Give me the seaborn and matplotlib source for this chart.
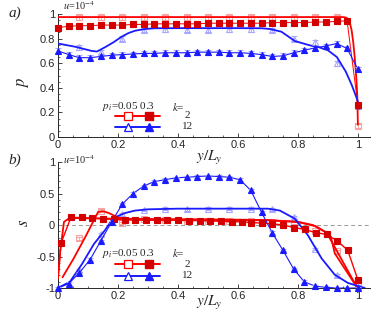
import matplotlib
matplotlib.use("Agg")
import matplotlib.pyplot as plt
import seaborn as sns

# ---- panel a): p vs y/Ly ----
p_red_theory_x = [0.0, 0.2, 0.4, 0.6, 0.8, 0.95, 0.962, 0.972, 0.979, 0.985, 0.99, 0.995, 0.998, 1.0]
p_red_theory = [0.975, 0.975, 0.975, 0.975, 0.975, 0.975, 0.97, 0.94, 0.87, 0.76, 0.63, 0.47, 0.33, 0.1]

x_hollow = [0.071, 0.143, 0.214, 0.286, 0.357, 0.429, 0.5, 0.571, 0.643, 0.714, 0.786, 0.857, 0.929, 1.0]
p_red_hollow = [0.975, 0.975, 0.975, 0.975, 0.975, 0.975, 0.975, 0.975, 0.975, 0.975, 0.975, 0.975, 0.975, 0.09]

x_filled = [0.0, 0.036, 0.071, 0.107, 0.143, 0.179, 0.214, 0.25, 0.286, 0.321, 0.357, 0.393, 0.429, 0.464,
            0.5, 0.536, 0.571, 0.607, 0.643, 0.679, 0.714, 0.75, 0.786, 0.821, 0.857, 0.893, 0.929, 0.964, 1.0]
p_red_filled = [0.89, 0.9, 0.905, 0.905, 0.91, 0.91, 0.91, 0.915, 0.915, 0.92, 0.92, 0.92, 0.92, 0.92,
                0.925, 0.925, 0.925, 0.925, 0.925, 0.925, 0.93, 0.93, 0.93, 0.93, 0.935, 0.935, 0.94, 0.945, 0.26]

p_blue_theory_x = [0.0, 0.057, 0.112, 0.13, 0.157, 0.185, 0.212, 0.235, 0.257, 0.29, 0.323, 0.4, 0.5, 0.6,
                   0.68, 0.707, 0.745, 0.79, 0.84, 0.87, 0.9, 0.93, 0.96, 0.98, 1.0, 1.005]
p_blue_theory = [0.76, 0.734, 0.70, 0.695, 0.73, 0.77, 0.815, 0.845, 0.864, 0.878, 0.884, 0.885, 0.885, 0.885,
                 0.884, 0.878, 0.856, 0.78, 0.745, 0.73, 0.705, 0.65, 0.53, 0.42, 0.29, 0.23]
p_blue_hollow = [0.73, 0.69, 0.8, 0.87, 0.875, 0.87, 0.87, 0.875, 0.875, 0.87, 0.8, 0.77, 0.6, 0.25]
p_blue_filled = [0.70, 0.67, 0.645, 0.645, 0.655, 0.665, 0.67, 0.675, 0.68, 0.68, 0.685, 0.685, 0.685, 0.69,
                 0.69, 0.69, 0.685, 0.685, 0.68, 0.67, 0.655, 0.66, 0.685, 0.705, 0.725, 0.74, 0.76, 0.72, 0.55]

# ---- panel b): s vs y/Ly ----
s_red_filled_x = [0.0, 0.01, 0.043, 0.079, 0.114, 0.15, 0.186, 0.222, 0.257, 0.293, 0.329, 0.365, 0.4, 0.436,
                  0.472, 0.508, 0.543, 0.579, 0.615, 0.645, 0.68, 0.715, 0.751, 0.787, 0.823, 0.859, 0.896,
                  0.931, 0.966, 1.0]
s_red_filled = [-0.85, -0.29, 0.12, 0.12, 0.11, 0.10, 0.09, 0.08, 0.08, 0.085, 0.08, 0.08, 0.075, 0.07,
                0.07, 0.065, 0.06, 0.055, 0.05, 0.04, 0.03, 0.02, 0.0, -0.04, -0.07, -0.12, -0.15,
                -0.25, -0.40, -0.87]
s_red_theory_a_x = [0.015, 0.05, 0.09, 0.134, 0.15, 0.17, 0.2, 0.25, 0.3, 0.5, 0.7, 0.8, 0.85, 0.88, 0.9,
                    0.91, 0.923, 0.96, 0.996]
s_red_theory_a = [-0.83, -0.55, -0.2, 0.21, 0.22, 0.19, 0.12, 0.09, 0.08, 0.08, 0.075, 0.05, 0.0, -0.08,
                  -0.14, -0.19, -0.45, -0.72, -0.98]
s_red_theory_b_x = [0.0, 0.008, 0.02, 0.035, 0.06, 0.2, 0.5, 0.7, 0.8, 0.86, 0.896, 0.996]
s_red_theory_b = [-0.85, -0.4, 0.05, 0.1, 0.11, 0.1, 0.09, 0.08, 0.05, -0.02, -0.12, -0.98]
s_red_hollow = [-0.21, 0.23, 0.03, 0.1, 0.08, 0.07, 0.07, 0.07, 0.06, 0.05, 0.0, -0.1, -0.42, -0.93]

s_blue_theory_x = [0.0, 0.04, 0.08, 0.12, 0.157, 0.184, 0.223, 0.257, 0.3, 0.4, 0.6, 0.7, 0.74, 0.79, 0.833,
                   0.879, 0.923, 0.967, 1.023]
s_blue_theory = [-1.0, -0.9, -0.62, -0.3, -0.08, 0.11, 0.19, 0.23, 0.25, 0.26, 0.26, 0.26, 0.23, 0.1, -0.16,
                 -0.53, -0.79, -0.92, -1.0]
s_blue_hollow = [-0.72, -0.15, 0.17, 0.24, 0.26, 0.25, 0.26, 0.26, 0.26, 0.25, 0.12, -0.38, -0.8, -0.98]
s_blue_filled = [-1.0, -0.93, -0.76, -0.55, -0.25, 0.05, 0.33, 0.5, 0.62, 0.69, 0.72, 0.75, 0.76, 0.77,
                 0.78, 0.77, 0.76, 0.72, 0.55, 0.2, -0.12, -0.4, -0.7, -0.9, -0.97, -0.99, -1.0, -1.0, -1.0]

x_ticks = [0, 0.2, 0.4, 0.6, 0.8, 1.0]
x_ticklabels = ["0", "0.2", "0.4", "0.6", "0.8", "1"]
p_ticks = [0, 0.2, 0.4, 0.6, 0.8, 1.0]
p_ticklabels = ["0", "0.2", "0.4", "0.6", "0.8", "1"]
s_ticks = [-1, -0.5, 0, 0.5, 1]
s_ticklabels = ["-1", "-0.5", "0", "0.5", "1"]
k_labels = ["2", "12"]

RED = "#ff0000"
DRED = "#d40000"
PINK = "#f5a3a3"
BLUE = "#1a1aff"
LBLUE = "#a8a8ff"

sns.set_style("ticks", {"xtick.direction": "in", "ytick.direction": "in"})
plt.rcParams["font.family"] = ["Liberation Sans", "DejaVu Sans"]
plt.rcParams["mathtext.fontset"] = "stix"
SERIF = "Liberation Serif"

fig = plt.figure(figsize=(3.74, 3.18), dpi=100)
ax1 = fig.add_axes([0.155, 0.569, 0.834, 0.387])
ax2 = fig.add_axes([0.155, 0.0943, 0.834, 0.396])


def markers(ax, x, y, mk, face, edge, ebc, ms, z):
    ax.errorbar(x, y, yerr=0.02, fmt=mk, ms=ms, mfc=face, mec=edge, mew=0.8,
                ecolor=ebc, elinewidth=0.6, capsize=2.5, capthick=0.6, zorder=z, clip_on=False)


def line(ax, x, y, color, lw, z=3):
    sns.lineplot(x=x, y=y, ax=ax, color=color, lw=lw, sort=False, estimator=None, zorder=z)


# panel a
line(ax1, p_red_theory_x, p_red_theory, RED, 1.3)
markers(ax1, x_hollow, p_red_hollow, "s", "none", PINK, PINK, 5, 2)
line(ax1, x_filled, p_red_filled, RED, 0.7)
markers(ax1, x_filled, p_red_filled, "s", DRED, DRED, PINK, 4.2, 4)
line(ax1, p_blue_theory_x, p_blue_theory, BLUE, 1.3)
markers(ax1, x_hollow, p_blue_hollow, "^", "none", LBLUE, LBLUE, 5, 2)
line(ax1, x_filled, p_blue_filled, BLUE, 0.8)
markers(ax1, x_filled, p_blue_filled, "^", BLUE, BLUE, LBLUE, 3.8, 4)

# panel b
ax2.axhline(0, color="#999999", ls=(0, (4, 3)), lw=0.7, zorder=1)
line(ax2, s_red_theory_a_x, s_red_theory_a, RED, 1.3)
line(ax2, s_red_theory_b_x, s_red_theory_b, RED, 1.3)
markers(ax2, x_hollow, s_red_hollow, "s", "none", PINK, PINK, 5, 2)
line(ax2, s_red_filled_x, s_red_filled, RED, 1.0)
markers(ax2, s_red_filled_x[1:], s_red_filled[1:], "s", DRED, DRED, PINK, 4.2, 4)
line(ax2, s_blue_theory_x, s_blue_theory, BLUE, 1.3)
markers(ax2, x_hollow, s_blue_hollow, "^", "none", LBLUE, LBLUE, 5, 2)
line(ax2, x_filled, s_blue_filled, BLUE, 0.8)
markers(ax2, x_filled, s_blue_filled, "^", BLUE, BLUE, LBLUE, 3.8, 4)

for ax, yt, ytl, ylim, lab, ly in [(ax1, p_ticks, p_ticklabels, (0, 1), "$p$", 0.447),
                                   (ax2, s_ticks, s_ticklabels, (-1, 1), "$s$", 0.516)]:
    ax.set_xlim(0, 1.04)
    ax.set_ylim(*ylim)
    ax.set_xticks(x_ticks)
    ax.set_xticklabels(x_ticklabels, fontsize=8)
    ax.set_yticks(yt)
    ax.set_yticklabels(ytl, fontsize=8)
    ax.minorticks_on()
    ax.tick_params(which="major", direction="in", length=3, width=0.6, pad=2)
    ax.tick_params(which="minor", direction="in", length=1.5, width=0.5)
    for sp in ["top", "right"]:
        ax.spines[sp].set_visible(False)
    for sp in ["left", "bottom"]:
        ax.spines[sp].set_linewidth(0.7)
    ax.set_xlabel("")
    ax.set_ylabel(lab, fontsize=12, labelpad=0)
    ax.yaxis.set_label_coords(-0.088, ly)

# panel labels, annotations
fig.text(15 / 374, 1 - 13 / 318, "a)", fontsize=11, style="italic", family=SERIF, ha="center", va="center")
fig.text(15 / 374, 1 - 160 / 318, "b)", fontsize=11, style="italic", family=SERIF, ha="center", va="center")
fig.text(63 / 374, 1 - 6 / 318, r"$u$=10$^{-4}$", fontsize=7.5, family=SERIF, va="center")
fig.text(63 / 374, 1 - 160 / 318, r"$u$=10$^{-4}$", fontsize=7.5, family=SERIF, va="center")
fig.text(209 / 374, 1 - 158 / 318, r"$y/L_y$", fontsize=11, ha="center", va="center")
fig.text(209 / 374, 1 - 303 / 318, r"$y/L_y$", fontsize=11, ha="center", va="center")

# legends drawn in axes fraction
for ax, yh, y1, y2 in [(ax1, 0.246, 0.173, 0.084), (ax2, 0.278, 0.188, 0.098)]:
    ax.text(0.141, yh, r"$p_i$=0.05 0.3", transform=ax.transAxes, fontsize=8, family=SERIF, va="center")
    ax.text(0.365, yh, r"$k$=", transform=ax.transAxes, fontsize=8, family=SERIF, va="center")
    for yy, col, mk, lfc, lab in [(y1, RED, "s", DRED, k_labels[0]), (y2, BLUE, "^", BLUE, k_labels[1])]:
        ax.plot([0.183, 0.327], [yy, yy], color=col, lw=1.4, transform=ax.transAxes, clip_on=False)
        ax.plot([0.224], [yy], marker=mk, ms=5.5, mfc="white", mec=col, mew=0.9,
                transform=ax.transAxes, clip_on=False)
        ax.plot([0.292], [yy], marker=mk, ms=5.5, mfc=lfc, mec=lfc,
                transform=ax.transAxes, clip_on=False)
        ax.text(0.415, yy, lab, transform=ax.transAxes, fontsize=8, family=SERIF, ha="center", va="center")

fig.savefig("out.png", dpi=100)
